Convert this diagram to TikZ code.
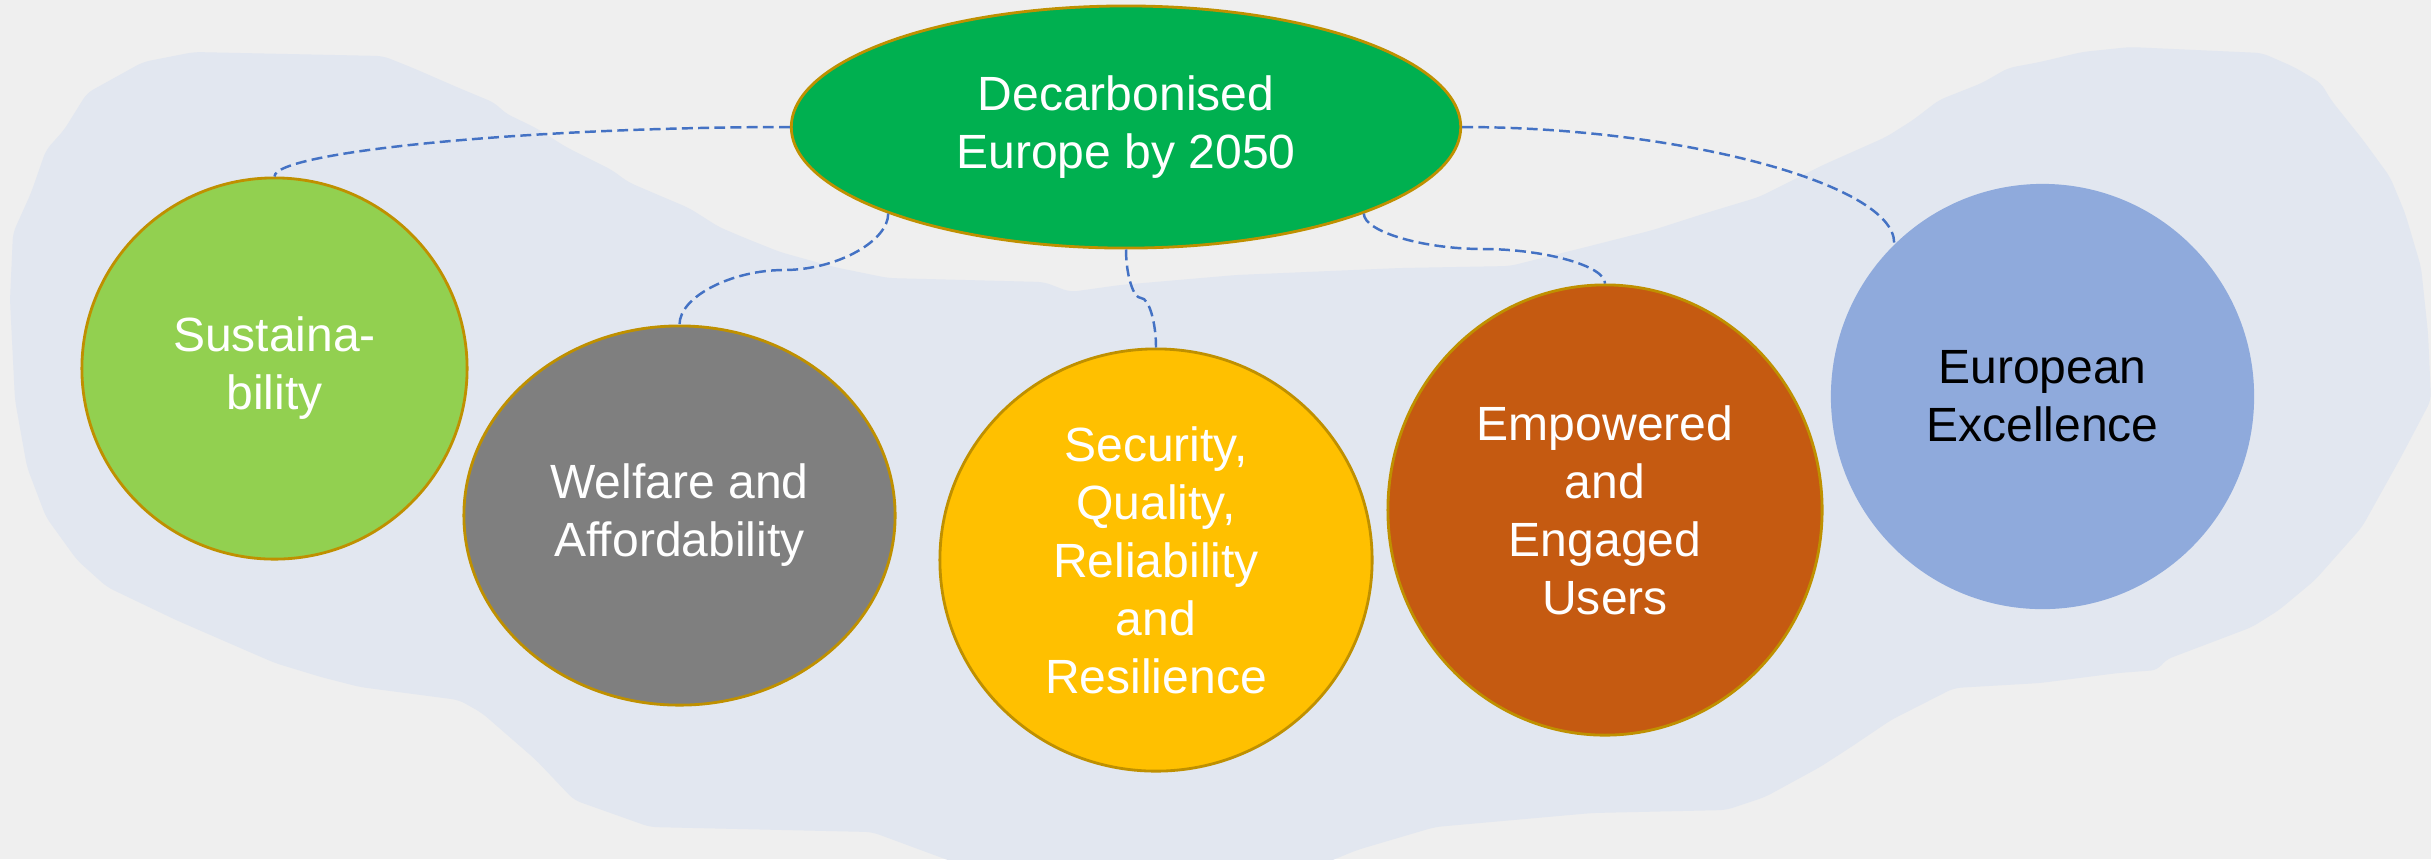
\documentclass[tikz,border=0pt]{standalone}
\usepackage{fontspec}
\setmainfont{Liberation Sans}
\usetikzlibrary{shapes.geometric}
\definecolor{bgc}{HTML}{EFEFEF}
\definecolor{blobc}{HTML}{E2E7F0}
\definecolor{bordc}{HTML}{BF9000}
\definecolor{connc}{HTML}{4472C4}
\definecolor{greenc}{HTML}{00B050}
\definecolor{lgreenc}{HTML}{92D050}
\definecolor{grayc}{HTML}{7F7F7F}
\definecolor{yellowc}{HTML}{FFC000}
\definecolor{orangec}{HTML}{C55A11}
\definecolor{bluec}{HTML}{8FAADC}
\begin{document}
\begin{tikzpicture}[x=0.01cm,y=-0.01cm,
  bubble/.style={ellipse, draw=bordc, line width=0.8pt, inner sep=0pt, align=center,
    text=white, font=\fontsize{13.66pt}{16.5pt}\selectfont},
  conn/.style={draw=connc, line width=0.7pt, dash pattern=on 3.1pt off 1.5pt}]
\useasboundingbox (0,0) rectangle (2431,859);
\fill[bgc] (0,0) rectangle (2431,859);
\begin{scope}
\clip (0,0) rectangle (2431,859);
\fill[blobc, rounded corners=2pt] (194,52) -- (383,56) -- (413,68) -- (459,88) -- (495,103) -- (505,113) -- (536,128) -- (566,147) -- (612,170) -- (628,182) -- (663,197) -- (689,208) -- (719,227) -- (745,238) -- (780,252) -- (834,267) -- (888,278) -- (1044,282) -- (1070,292) -- (1120,285) -- (1236,275) -- (1400,268) -- (1510,266) -- (1586,247) -- (1653,230) -- (1706,213) -- (1759,197) -- (1823,165) -- (1886,137) -- (1913,120) -- (1939,100) -- (1982,83) -- (2008,68) -- (2040,62) -- (2082,52) -- (2130,47) -- (2262,53) -- (2294,67) -- (2321,83) -- (2331,100) -- (2363,140) -- (2390,177) -- (2405,213) -- (2421,267) -- (2428,333) -- (2431,400) -- (2401,457) -- (2362,527) -- (2315,580) -- (2279,610) -- (2252,627) -- (2165,660) -- (2158,670) -- (2118,673) -- (2040,683) -- (1954,688) -- (1891,720) -- (1851,747) -- (1820,767) -- (1765,797) -- (1726,810) -- (1592,813) -- (1435,827) -- (1357,850) -- (1318,866) -- (964,866) -- (872,832) -- (650,827) -- (574,800) -- (536,760) -- (482,713) -- (459,700) -- (360,687) -- (321,677) -- (275,663) -- (245,650) -- (176,620) -- (107,587) -- (77,560) -- (46,517) -- (27,467) -- (15,400) -- (10,300) -- (13,233) -- (31,193) -- (46,150) -- (64,130) -- (87,93) -- (143,62) -- cycle;
\end{scope}

\node[bubble, fill=greenc, minimum width=6.69cm, minimum height=2.42cm] (green) at (1126,127) {Decarbonised\\Europe by 2050};
\node[bubble, fill=lgreenc, minimum width=3.85cm, minimum height=3.81cm] (sus) at (274.5,368.5) {Sustaina-\\bility};
\node[bubble, fill=grayc, minimum width=4.31cm, minimum height=3.79cm] (welf) at (679.5,515.5) {Welfare and\\Affordability};
\node[bubble, fill=yellowc, minimum width=4.32cm, minimum height=4.22cm] (sec) at (1156,560) {Security,\\Quality,\\Reliability\\and\\Resilience};
\node[bubble, fill=orangec, minimum width=4.34cm, minimum height=4.50cm] (emp) at (1605,510) {Empowered\\and\\Engaged\\Users};
\node[bubble, draw=none, fill=bluec, text=black, minimum width=4.23cm, minimum height=4.25cm] (euro) at (2042.5,396.5) {European\\Excellence};

\coordinate (mb) at (784,270);
\coordinate (mc) at (1141,298);
\coordinate (md) at (1483,249);
\draw[conn] (green.west) .. controls +(-257,0) and +(0,-25) .. (sus.north);
\draw[conn] (green.200) .. controls +(0,28) and +(52,0) .. (mb) .. controls +(-52,0) and +(0,-28) .. (welf.north);
\draw[conn] (green.south) .. controls +(0,25) and +(-8,0) .. (mc) .. controls +(8,0) and +(0,-25) .. (sec.north);
\draw[conn] (green.340) .. controls +(0,18) and +(-60,0) .. (md) .. controls +(60,0) and +(0,-18) .. (emp.north);
\draw[conn] (green.east) .. controls +(217,0) and +(0,-59) .. (euro.134);
\end{tikzpicture}
\end{document}
